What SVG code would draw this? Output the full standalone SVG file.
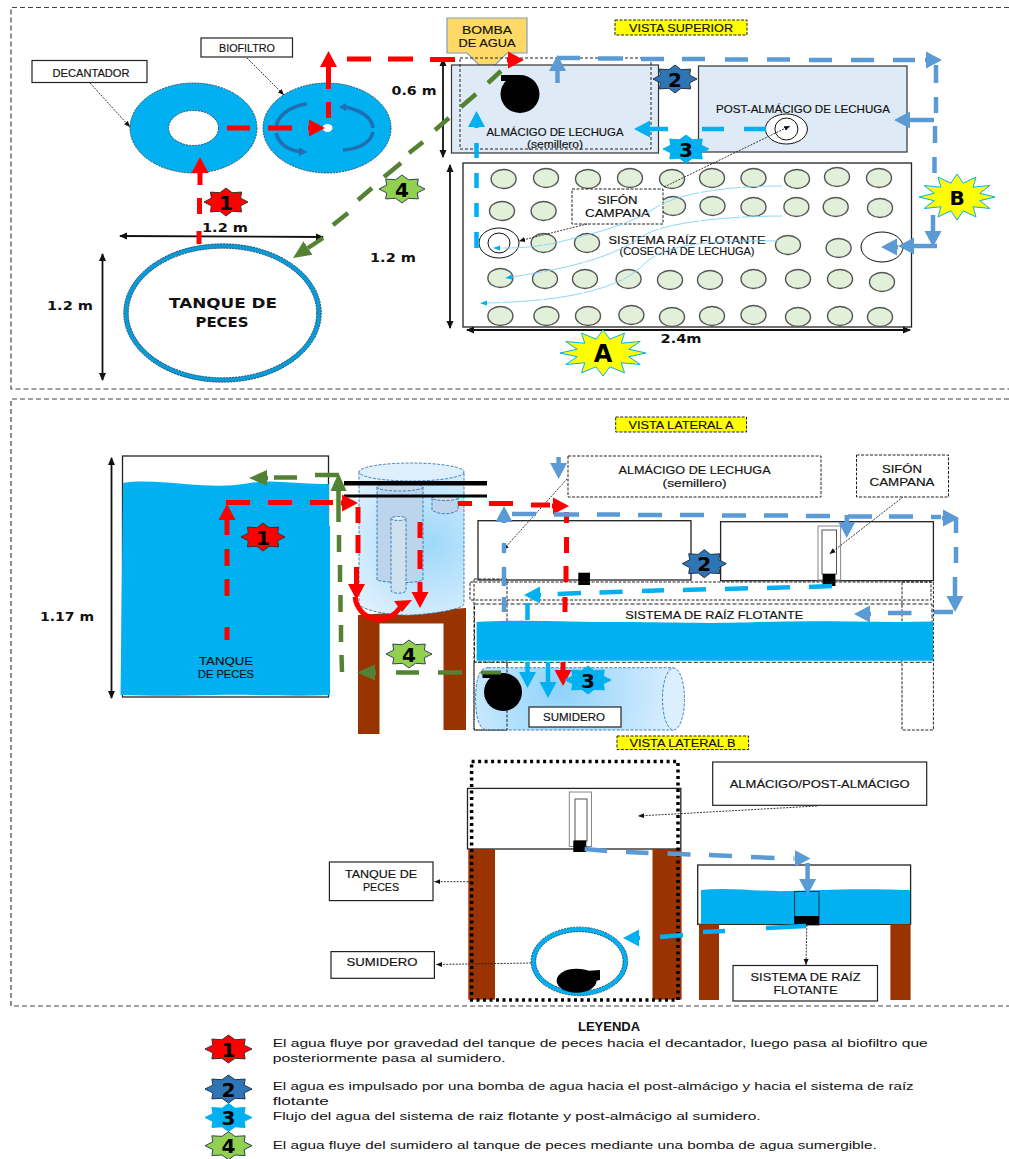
<svg xmlns="http://www.w3.org/2000/svg" width="1009" height="1159" viewBox="0 0 1009 1159">
<style>
text{font-family:"Liberation Sans",Arial,sans-serif;fill:#111;text-anchor:middle}
.l{font-size:10.5px;stroke:#111;stroke-width:.15}
.d{font-family:"DejaVu Sans",sans-serif;font-weight:bold;font-size:12px}
.n{font-family:"DejaVu Sans",sans-serif;font-weight:bold;font-size:20px;fill:#000}
.leg{font-size:11px;text-anchor:start}
.box{fill:#fff;stroke:#222;stroke-width:1.2}
.dbox{fill:#fff;stroke:#222;stroke-width:1;stroke-dasharray:3 1.5}
.tag{fill:#ff0;stroke:#222;stroke-width:1;stroke-dasharray:3 1.5}
.plain{fill:#fff;stroke:#222;stroke-width:1.3}
.panel{fill:none;stroke:#444;stroke-width:1.2;stroke-dasharray:5 3}
.water{fill:#00b0f0}
.disc{fill:#00b0f0;stroke:#234;stroke-width:.8;stroke-dasharray:2 1}
.seed{fill:#e2f0d9;stroke:#555;stroke-width:1.4}
.bed{fill:#deeaf6;stroke:#333;stroke-width:1.2}
.ring{fill:none;stroke:#111;stroke-width:1}
.edge{fill:none;stroke:#234;stroke-width:.8;stroke-dasharray:2 1}
.wood{fill:#993300}
.blk{fill:#000}
.pipe{stroke:#2e75b6;stroke-width:.9;stroke-dasharray:3 1.5}
.dim{fill:none;stroke:#111;stroke-width:1.8;marker-start:url(#dimS);marker-end:url(#dimE)}
.lead{fill:none;stroke:#222;stroke-width:.9;stroke-dasharray:2 1.2;marker-end:url(#lead)}
.fr{fill:none;stroke:#f00;stroke-width:5;marker-end:url(#mr)}
.fb{fill:none;stroke:#5b9bd5;stroke-width:4.5;marker-end:url(#mb)}
.fl{fill:none;stroke:#00b0f0;stroke-width:4.5;marker-end:url(#ml)}
.fg{fill:none;stroke:#548235;stroke-width:4.5;marker-end:url(#mg)}
.thin{fill:none;stroke:#7fd3f5;stroke-width:.9;stroke-dasharray:40 1.5;marker-end:url(#mt)}
.arc{fill:none;stroke:#1f6fb2;stroke-width:3.5}
.s1{fill:#f00;stroke:#333}.s2{fill:#2e75b6;stroke:#234}.s3{fill:#00b0f0;stroke:#00b0f0}.s4{fill:#92d050;stroke:#345}
.sy{fill:#ff0;stroke:#00b0f0}
</style>
<defs>
<polygon id="s8" vector-effect="non-scaling-stroke" points="1,0 .665,.276 .707,.707 .276,.665 0,1 -.276,.665 -.707,.707 -.665,.276 -1,0 -.665,-.276 -.707,-.707 -.276,-.665 0,-1 .276,-.665 .707,-.707 .665,-.276"/>
<polygon id="s12" vector-effect="non-scaling-stroke" points="1,0 .6,.161 .866,.5 .424,.424 .5,.866 .161,.6 0,1 -.161,.6 -.5,.866 -.424,.424 -.866,.5 -.6,.161 -1,0 -.6,-.161 -.866,-.5 -.424,-.424 -.5,-.866 -.161,-.6 0,-1 .161,-.6 .5,-.866 .424,-.424 .866,-.5 .6,-.161"/>
<marker id="mr" markerUnits="userSpaceOnUse" markerWidth="18" markerHeight="18" viewBox="0 -9 18 18" refX="0" refY="0" orient="auto"><path d="M0-8.5L16 0 0 8.5z" fill="#f00"/></marker>
<marker id="mb" markerUnits="userSpaceOnUse" markerWidth="18" markerHeight="18" viewBox="0 -9 18 18" refX="0" refY="0" orient="auto"><path d="M0-8.5L16 0 0 8.5z" fill="#5b9bd5"/></marker>
<marker id="ml" markerUnits="userSpaceOnUse" markerWidth="18" markerHeight="18" viewBox="0 -9 18 18" refX="0" refY="0" orient="auto"><path d="M0-8.5L16 0 0 8.5z" fill="#00b0f0"/></marker>
<marker id="mg" markerUnits="userSpaceOnUse" markerWidth="20" markerHeight="18" viewBox="0 -9 20 18" refX="0" refY="0" orient="auto"><path d="M0-8L18 0 0 8z" fill="#548235"/></marker>
<marker id="mt" markerUnits="userSpaceOnUse" markerWidth="8" markerHeight="6" viewBox="0 -3 8 6" refX="0" refY="0" orient="auto"><path d="M0-2.5L7 0 0 2.5z" fill="#00b0f0"/></marker>
<marker id="dimE" markerUnits="userSpaceOnUse" markerWidth="9" markerHeight="8" viewBox="0 -4 9 8" refX="7" refY="0" orient="auto"><path d="M0-3.5L8 0 0 3.500z" fill="#111"/></marker>
<marker id="dimS" markerUnits="userSpaceOnUse" markerWidth="9" markerHeight="8" viewBox="0 -4 9 8" refX="1" refY="0" orient="auto"><path d="M8-3.5L0 0 8 3.500z" fill="#111"/></marker>
<marker id="lead" markerUnits="userSpaceOnUse" markerWidth="7" markerHeight="6" viewBox="0 -3 7 6" refX="6" refY="0" orient="auto"><path d="M0-2.5L6 0 0 2.500z" fill="#111"/></marker>
<radialGradient id="glass" gradientUnits="userSpaceOnUse" cx="430" cy="543" r="90"><stop offset="0" stop-color="#9ed8fa"/><stop offset="1" stop-color="#def0fd"/></radialGradient>
<radialGradient id="sump" gradientUnits="userSpaceOnUse" cx="560" cy="690" r="120"><stop offset="0" stop-color="#8fd3fa"/><stop offset="1" stop-color="#dcefff"/></radialGradient>
</defs>

<g id="panels">
<path class="panel" d="M1009 7.500H11V389H1009"/>
<path class="panel" d="M1009 399H11V1006H1009"/>
</g>

<g id="decantador">
<ellipse class="disc" cx="193.500" cy="128" rx="63.500" ry="45"/>
<ellipse cx="193.500" cy="128" rx="25" ry="17.500" fill="#fff" stroke="#234" stroke-width=".8" stroke-dasharray="2 1"/>
<rect class="box" x="32" y="60.500" width="115" height="22"/>
<text class="l" x="91" y="76.500" textLength="77" lengthAdjust="spacingAndGlyphs">DECANTADOR</text>
</g>
<g id="biofiltro">
<ellipse class="disc" cx="327" cy="128" rx="64" ry="45"/>
<ellipse cx="327.500" cy="128" rx="5" ry="4" fill="#fff"/>
<path class="arc" d="M307 104C290 106 277 116 276 128M276 133C279 144 288 150 300 151.500M345 107C360 110 372 117 373 128M373 132C371 143 358 149 343 150"/>
<path d="M299 147L307 152 299 156ZM346 103L339 107 346 111Z" fill="#1f6fb2"/>
<rect class="box" x="201" y="38" width="91.500" height="19"/>
<text class="l" x="247" y="51.500" textLength="56" lengthAdjust="spacingAndGlyphs">BIOFILTRO</text>
</g>
<g id="tanque-superior">
<ellipse cx="222.500" cy="313" rx="96.500" ry="67" fill="#fff" stroke="#0a9ad8" stroke-width="4.500"/>
<ellipse class="edge" cx="222.500" cy="313" rx="98.800" ry="69.200"/>
<ellipse class="edge" cx="222.500" cy="313" rx="94.200" ry="64.800"/>
<text class="d" style="font-size:14px" x="223" y="308" textLength="108" lengthAdjust="spacingAndGlyphs">TANQUE DE</text>
<text class="d" style="font-size:14px" x="222" y="327" textLength="53" lengthAdjust="spacingAndGlyphs">PECES</text>
</g>
<g id="bomba-superior">
<polygon points="447,18 527,18 527,53 507,53 487,73 467,53 447,53" fill="#ffd966" stroke="#7f9fc0" stroke-width="1.200"/>
<text class="l" x="487" y="33.500" textLength="50" lengthAdjust="spacingAndGlyphs">BOMBA</text>
<text class="l" x="487" y="46.500" textLength="57" lengthAdjust="spacingAndGlyphs">DE AGUA</text>
</g>
<g id="almacigo-superior">
<rect class="bed" x="451.500" y="65" width="207" height="88"/>
<rect x="460" y="58" width="191" height="91" fill="none" stroke="#222" stroke-dasharray="3 2"/>
<text class="l" x="555" y="136" textLength="137" lengthAdjust="spacingAndGlyphs">ALMÁCIGO DE LECHUGA</text>
<text class="l" x="555" y="148" textLength="56" lengthAdjust="spacingAndGlyphs">(semillero)</text>
<ellipse class="blk" cx="520" cy="94" rx="19.500" ry="19"/>
<rect class="blk" x="501" y="75" width="19" height="6"/>
</g>
<g id="post-almacigo-superior">
<rect class="bed" x="698.500" y="66" width="208.500" height="86"/>
<text class="l" x="803" y="112.500" textLength="174" lengthAdjust="spacingAndGlyphs">POST-ALMÁCIGO  DE LECHUGA</text>
<ellipse cx="786.400" cy="129" rx="21" ry="15" fill="#fff" stroke="#111"/>
<ellipse class="ring" cx="786.400" cy="129" rx="11.500" ry="11"/>
</g>
<g id="sistema-superior">
<rect class="plain" x="463" y="163" width="448.500" height="164"/>
<g class="seed">
<ellipse cx="503.600" cy="179" rx="12.500" ry="9.500"/><ellipse cx="546" cy="178" rx="12.500" ry="9.500"/><ellipse cx="588" cy="179" rx="12.500" ry="9.500"/><ellipse cx="630" cy="178" rx="12.500" ry="9.500"/><ellipse cx="672" cy="179" rx="12.500" ry="9.500"/><ellipse cx="712" cy="178" rx="12.500" ry="9.500"/><ellipse cx="753.500" cy="178" rx="12.500" ry="9.500"/><ellipse cx="797" cy="179" rx="12.500" ry="9.500"/><ellipse cx="837" cy="177" rx="12.500" ry="9.500"/><ellipse cx="879" cy="178" rx="12.500" ry="9.500"/>
<ellipse cx="502" cy="211" rx="12.500" ry="9.500"/><ellipse cx="543.600" cy="211" rx="12.500" ry="9.500"/><ellipse cx="673" cy="206" rx="12.500" ry="9.500"/><ellipse cx="712.500" cy="206" rx="12.500" ry="9.500"/><ellipse cx="753.500" cy="207" rx="12.500" ry="9.500"/><ellipse cx="796.400" cy="207" rx="12.500" ry="9.500"/><ellipse cx="835.700" cy="207" rx="12.500" ry="9.500"/><ellipse cx="880" cy="208" rx="12.500" ry="9.500"/>
<ellipse cx="543.600" cy="243" rx="12.500" ry="9.500"/><ellipse cx="587" cy="243" rx="12.500" ry="9.500"/><ellipse cx="788" cy="245" rx="12.500" ry="9.500"/><ellipse cx="838.600" cy="248" rx="12.500" ry="9.500"/>
<ellipse cx="500.400" cy="278" rx="12.500" ry="9.500"/><ellipse cx="545" cy="279" rx="12.500" ry="9.500"/><ellipse cx="585" cy="279" rx="12.500" ry="9.500"/><ellipse cx="628.600" cy="279" rx="12.500" ry="9.500"/><ellipse cx="670" cy="280" rx="12.500" ry="9.500"/><ellipse cx="710" cy="280" rx="12.500" ry="9.500"/><ellipse cx="753.500" cy="279" rx="12.500" ry="9.500"/><ellipse cx="798" cy="279" rx="12.500" ry="9.500"/><ellipse cx="840" cy="279" rx="12.500" ry="9.500"/><ellipse cx="882" cy="282" rx="12.500" ry="9.500"/>
<ellipse cx="500.400" cy="316" rx="12.500" ry="9.500"/><ellipse cx="546.400" cy="316" rx="12.500" ry="9.500"/><ellipse cx="588" cy="316" rx="12.500" ry="9.500"/><ellipse cx="631.400" cy="315" rx="12.500" ry="9.500"/><ellipse cx="672" cy="317" rx="12.500" ry="9.500"/><ellipse cx="712" cy="316" rx="12.500" ry="9.500"/><ellipse cx="753.500" cy="315" rx="12.500" ry="9.500"/><ellipse cx="798" cy="317" rx="12.500" ry="9.500"/><ellipse cx="840" cy="316" rx="12.500" ry="9.500"/><ellipse cx="880" cy="317" rx="12.500" ry="9.500"/>
</g>
<ellipse cx="499" cy="243" rx="20" ry="15" fill="#fff" stroke="#111"/>
<ellipse class="ring" cx="499" cy="243" rx="11" ry="10"/>
<ellipse cx="882" cy="247" rx="21" ry="15" fill="#fff" stroke="#111"/>
<text class="l" x="687" y="243.500" textLength="157" lengthAdjust="spacingAndGlyphs">SISTEMA RAÍZ FLOTANTE</text>
<text class="l" x="687" y="255" textLength="135" lengthAdjust="spacingAndGlyphs">(COSECHA DE LECHUGA)</text>
</g>
<g id="sifon-superior">
<rect class="dbox" x="572" y="189" width="91" height="35"/>
<text class="l" x="617.500" y="203.500" textLength="40" lengthAdjust="spacingAndGlyphs">SIFÓN</text>
<text class="l" x="617.500" y="216.500" textLength="65" lengthAdjust="spacingAndGlyphs">CAMPANA</text>
</g>

<g id="tanque-lateral">
<rect class="plain" x="122.500" y="456" width="206" height="241"/>
<path class="water" d="M123 483C140 480 160 482 185 484S225 487 250 483 300 485 329 484V526H330V695C290 697 250 694 215 695S150 696 120.500 695Z"/>
<text class="l" x="226" y="664.500" textLength="54" lengthAdjust="spacingAndGlyphs">TANQUE</text>
<text class="l" x="226" y="677.500" textLength="56" lengthAdjust="spacingAndGlyphs">DE PECES</text>
</g>
<g id="biofiltro-lateral">
<path class="wood" d="M358 734V615L466 608V730H443.500V623.500H379.500V734Z"/>
<path d="M359 472V604C362 611 395 616 412 615S462 610 464 604V472Z" fill="url(#glass)" class="pipe"/>
<ellipse cx="411.500" cy="472" rx="52.500" ry="9" fill="#dfeffc" class="pipe"/>
<path d="M377 487V580C385 583 415 584 423 580V487Z" fill="#bcd4ec" class="pipe"/>
<ellipse cx="400" cy="487" rx="23" ry="4" fill="#c5d9ec" class="pipe"/>
<path d="M391 518V591C394 594 403 594 406 591V518Z" fill="#cfe0ee" class="pipe"/>
<ellipse cx="398.500" cy="518.500" rx="7.500" ry="2" fill="#dcebf5" class="pipe"/>
<path d="M432 498V510C438 515 452 515 458 510V498Z" fill="#bcd4ec" class="pipe"/>
<ellipse cx="445" cy="498" rx="13" ry="2.500" fill="#cfe0ee" class="pipe"/>
<rect class="blk" x="344" y="481" width="143" height="4.500"/>
<rect class="blk" x="344" y="494.500" width="143" height="3"/>
</g>
<g id="almacigo-lateral">
<rect class="plain" x="478" y="520.700" width="213" height="59.300"/>
<rect class="blk" x="578.300" y="572.700" width="11.700" height="12.300"/>
</g>
<g id="post-almacigo-lateral">
<rect class="plain" x="720.600" y="521.700" width="212.800" height="59"/>
<rect x="818" y="526" width="22.600" height="54" fill="#fff" stroke="#888"/>
<rect x="822" y="530" width="14.500" height="44" fill="#fff" stroke="#555"/>
<rect class="blk" x="822.600" y="574" width="12.800" height="12"/>
</g>
<g id="sistema-lateral">
<rect x="470" y="582" width="461" height="18" fill="none" stroke="#222" stroke-dasharray="3 1.500"/>
<rect x="474" y="579" width="33" height="151" fill="none" stroke="#222" stroke-dasharray="3 1.500"/>
<rect x="902" y="582" width="31.400" height="148" fill="none" stroke="#222" stroke-dasharray="3 1.500"/>
<rect x="474.500" y="604" width="457.500" height="58.300" fill="none" stroke="#222" stroke-dasharray="4 2"/>
<path class="water" d="M476.600 622C520 619 570 622 620 622S700 624 760 622 880 623 933 621.500V660.700H476.600Z"/>
<text class="l" x="714.300" y="618.500" textLength="178" lengthAdjust="spacingAndGlyphs">SISTEMA DE RAÍZ FLOTANTE</text>
</g>
<g id="sumidero-lateral">
<path d="M488 667.700H673.500V730H488C478 730 475.600 715 475.600 699S478 667.700 488 667.700Z" fill="url(#sump)" class="pipe"/>
<ellipse cx="673.500" cy="699" rx="11" ry="31" fill="#dcefff" class="pipe"/>
<rect x="474" y="662" width="33" height="68" fill="none" stroke="#222" stroke-dasharray="3 1.500"/>
<circle class="blk" cx="503" cy="692" r="19"/>
<rect class="blk" x="482.500" y="673" width="19.500" height="5"/>
<rect class="box" x="529" y="707" width="92" height="20"/>
<text class="l" x="574" y="721" textLength="62" lengthAdjust="spacingAndGlyphs">SUMIDERO</text>
</g>
<g id="etiquetas-lateral">
<rect class="dbox" x="568" y="456" width="253" height="41"/>
<text class="l" x="694.600" y="474" textLength="152" lengthAdjust="spacingAndGlyphs">ALMÁCIGO  DE LECHUGA</text>
<text class="l" x="694.600" y="487" textLength="64" lengthAdjust="spacingAndGlyphs">(semillero)</text>
<rect class="dbox" x="856.500" y="455" width="92" height="42"/>
<text class="l" x="902" y="473" textLength="40" lengthAdjust="spacingAndGlyphs">SIFÓN</text>
<text class="l" x="902" y="486" textLength="65" lengthAdjust="spacingAndGlyphs">CAMPANA</text>
</g>

<g id="vista-b">
<rect class="plain" x="467.500" y="788.400" width="213.300" height="60.600"/>
<rect x="569.300" y="792" width="22.200" height="54.500" fill="#fff" stroke="#888"/>
<rect x="575" y="799" width="12" height="42" fill="#fff" stroke="#555"/>
<rect class="wood" x="468.300" y="849" width="26.700" height="150.600"/>
<rect class="wood" x="652.500" y="849" width="29.100" height="150.600"/>
<rect class="blk" x="573.300" y="840.500" width="13" height="11.500"/>
<rect x="471.600" y="761.400" width="206.400" height="238.600" fill="none" stroke="#000" stroke-width="3.500" stroke-dasharray="3 3.500"/>
<ellipse cx="579.400" cy="961.400" rx="46" ry="32" fill="#fff" stroke="#00b0f0" stroke-width="4.500"/>
<ellipse class="edge" cx="579.400" cy="961.400" rx="48.300" ry="34.300"/>
<ellipse class="edge" cx="579.400" cy="961.400" rx="43.700" ry="29.700"/>
<ellipse class="blk" cx="576.600" cy="980.700" rx="20" ry="12"/>
<path class="blk" d="M586 971L600 970V980L590 982Z"/>
<rect class="plain" x="697.700" y="865" width="212.900" height="59.300"/>
<path class="water" d="M701 890C730 887 760 892 790 891S850 888 910 890V924H701Z"/>
<rect class="wood" x="699" y="924.300" width="20" height="75.700"/>
<rect class="wood" x="890.400" y="924.300" width="20.200" height="75.700"/>
<rect x="794.600" y="891.500" width="24.400" height="33.500" fill="none" stroke="#234"/>
<rect class="blk" x="794.600" y="916" width="24.400" height="9"/>
<rect class="box" x="712.700" y="762" width="214" height="43.300"/>
<text class="l" x="819.700" y="788" textLength="180" lengthAdjust="spacingAndGlyphs">ALMÁCIGO/POST-ALMÁCIGO</text>
<rect class="box" x="329.400" y="862" width="103.600" height="38.600"/>
<text class="l" x="381" y="878" textLength="72" lengthAdjust="spacingAndGlyphs">TANQUE DE</text>
<text class="l" x="381" y="891" textLength="36" lengthAdjust="spacingAndGlyphs">PECES</text>
<rect class="box" x="331" y="951.600" width="103.400" height="26.700"/>
<text class="l" x="382" y="966" textLength="71" lengthAdjust="spacingAndGlyphs">SUMIDERO</text>
<rect class="box" x="733" y="965.500" width="144.500" height="35.500"/>
<text class="l" x="805.500" y="981" textLength="110" lengthAdjust="spacingAndGlyphs">SISTEMA DE RAÍZ</text>
<text class="l" x="805.500" y="994" textLength="64" lengthAdjust="spacingAndGlyphs">FLOTANTE</text>
</g>

<g id="connectors">
<path class="lead" d="M90 83L130 127"/>
<path class="lead" d="M247 58L284 95"/>
<path class="lead" d="M664 187L790 126"/>
<path class="lead" d="M587 224L519 241"/>
<path class="lead" d="M567 479L503 550"/>
<path class="lead" d="M903 497L829.500 554"/>
<path class="lead" d="M817 806L638 816"/>
<path class="lead" d="M471.500 881.700H434.400"/>
<path class="lead" d="M531.300 963L436 964.500"/>
<path class="lead" d="M806.800 925L806 965"/>
<path class="dim" d="M120 236L323 237"/>
<path class="dim" d="M102.500 254V380"/>
<path class="dim" d="M443 59V157"/>
<path class="dim" d="M450 165V328"/>
<path class="dim" d="M467 330H910"/>
<path class="dim" d="M111.500 458V698"/>

<path class="thin" d="M782 186C740 186 690 190 660 205 630 225 600 232 555 243 530 248 515 248 500 248"/>
<path class="thin" d="M782 216C730 216 660 222 640 238 610 258 570 268 512 277"/>
<path class="thin" d="M778 241C700 240 660 245 640 268 610 295 540 302 487 303"/>

<path class="fr" d="M199 244V231M199.500 214V198M200 185V173"/>
<path class="fr" d="M227 128H250M268 128H292M308 128H309"/>
<path class="fr" d="M328.500 118V102M328.500 89V67"/>
<path class="fr" d="M347 59H371M388 59H413M430 59.500H455M507 60H508"/>
<path class="fr" d="M227 640V627M227 596V579M227 566V549M227 535V520"/>
<path class="fr" d="M226 502.500H250M268 502.500H292M310 502.500H333M341 503H342"/>
<path class="fr" d="M358 507V523M358 535V553M356.500 567V584"/>
<path class="fr" d="M420 522V538M420 550V569M420 582V592"/>
<path class="fr" d="M458 503.500H472M489 503.500H513M531 505H550M552 506H553"/>
<path class="fr" d="M566.500 512V523M566.500 537V553M566 566V582M565 597V612M563 662V670"/>
<path d="M355 597C358 622 390 628 402 604" fill="none" stroke="#f00" stroke-width="5"/>
<path d="M394 601L412 600 402 612Z" fill="#f00"/>

<path class="fb" d="M557.500 83V71"/>
<path class="fb" d="M558 58H580M598 58.500H623M641 59H664M682 59H705M725 59.500H748M767 59.500H790M809 60H832M851 60H874M893 60H915M925 60H926"/>
<path class="fb" d="M936 65V83M936 97V113M935 126V143M934.500 157V173M933 215V231"/>
<path class="fb" d="M934 120H910"/>
<path class="fb" d="M937 246H914"/>
<path class="fb" d="M898 247H897"/>
<path class="fb" d="M504 612V597M504 586V567M504 553V543M504 523V522"/>
<path class="fb" d="M512 514H536M554 514.500H579M597 514.500H620M638 515H662M680 515H704M722 515.500H746M764 515.500H788M806 516H830M848 516.500H872M889 516.500H913M931 517H941M942 518H943"/>
<path class="fb" d="M956 518V533M956 547V563M955 577V596"/>
<path class="fb" d="M953 612H934M911.500 613H888M871 614H870"/>
<path class="fb" d="M846.800 515V522"/>
<path class="fb" d="M558.600 457V463"/>
<path class="fb" d="M584.600 849L607 851M626 852L648.500 853M667.500 853.500L690.500 854.500M709 855L732 856M751 857L774.500 858M793.500 858.400H794.500"/>
<path class="fb" d="M807.600 863V879"/>

<path class="fl" d="M766 129H744M724 129H702M668 129H650"/>
<path class="fl" d="M476.500 248V232M476.500 217V203M476.500 188V173M476.500 158V143M476.500 128V127"/>
<path class="fl" d="M832 586L809 587M790 587.300L767 588M748 588.300L725 589M706 589.300L683 590M664 590.300L642 591M622.600 591.700L599.500 592.500M581 593L557.600 594M541 595H540"/>
<path class="fl" d="M527.500 620V603M527.500 662V672"/>
<path class="fl" d="M548 662V682"/>
<path class="fl" d="M806 926L766 928M725 931L703 932M683 935L660 937M640 938H639"/>

<path class="fg" d="M501 71L488 83M476 94L461 107M449 118L435 130M423 142L409 153M401 163L384 177M372 188L358 200M348 213L333 225M323 238L308 248"/>
<path class="fg" d="M339 475H315M297 477.500H274M268 478H267"/>
<path class="fg" d="M342 672L341.500 655M341 642V625M340.500 612V595M340 582V565M339 552V535M338.500 522V491"/>
<path class="fg" d="M462 672.500H438M419 672.500H396M376 672.500H375"/>
<path d="M481 672.500H501" stroke="#548235" stroke-width="4" fill="none"/>
</g>

<g id="paso-1-superior"><use href="#s8" class="s1" transform="translate(226 202) scale(22 14)"/><text class="n" x="226" y="210">1</text></g>
<g id="paso-2-superior"><use href="#s8" class="s2" transform="translate(675 79) scale(22 14)"/><text class="n" x="675" y="87">2</text></g>
<g id="paso-3-superior"><use href="#s8" class="s3" transform="translate(686 149) scale(23 14)"/><text class="n" x="686" y="157">3</text></g>
<g id="paso-4-superior"><use href="#s8" class="s4" transform="translate(402 189) scale(23 14)"/><text class="n" x="402" y="197">4</text></g>
<g id="paso-1-lateral"><use href="#s8" class="s1" transform="translate(263 537) scale(22 14)"/><text class="n" x="263" y="545">1</text></g>
<g id="paso-2-lateral"><use href="#s8" class="s2" transform="translate(704.300 563.700) scale(22 14)"/><text class="n" x="704.300" y="571">2</text></g>
<g id="paso-3-lateral"><use href="#s8" class="s3" transform="translate(588 680) scale(23 14)"/><text class="n" x="588" y="688">3</text></g>
<g id="paso-4-lateral"><use href="#s8" class="s4" transform="translate(409 654) scale(23 14)"/><text class="n" x="409" y="662">4</text></g>
<g id="punto-a"><use href="#s12" class="sy" transform="translate(603 353) scale(43 23)"/><text class="n" style="font-size:24px" x="603" y="362">A</text></g>
<g id="punto-b"><use href="#s12" class="sy" transform="translate(957 197) scale(38 23)"/><text class="n" style="font-size:20px" x="957" y="205">B</text></g>

<g id="medidas">
<text class="d" x="225" y="232" textLength="46" lengthAdjust="spacingAndGlyphs">1.2 m</text>
<text class="d" x="70" y="310" textLength="46" lengthAdjust="spacingAndGlyphs">1.2 m</text>
<text class="d" x="414" y="95" textLength="45" lengthAdjust="spacingAndGlyphs">0.6 m</text>
<text class="d" x="393" y="262" textLength="46" lengthAdjust="spacingAndGlyphs">1.2 m</text>
<text class="d" x="681" y="343" textLength="41" lengthAdjust="spacingAndGlyphs">2.4m</text>
<text class="d" x="67" y="621" textLength="54" lengthAdjust="spacingAndGlyphs">1.17 m</text>
</g>
<g id="vista-superior"><rect class="tag" x="615" y="20" width="132" height="15"/><text class="l" x="681" y="31.500" textLength="104" lengthAdjust="spacingAndGlyphs">VISTA SUPERIOR</text></g>
<g id="vista-lateral-a"><rect class="tag" x="615.700" y="417" width="130.800" height="15"/><text class="l" x="681" y="428.500" textLength="105" lengthAdjust="spacingAndGlyphs">VISTA LATERAL A</text></g>
<g id="vista-lateral-b"><rect class="tag" x="617" y="736" width="131.600" height="13.600"/><text class="l" x="682.500" y="746.800" textLength="106" lengthAdjust="spacingAndGlyphs">VISTA LATERAL B</text></g>

<g id="leyenda">
<text style="font-size:13px;font-weight:bold" x="609" y="1031">LEYENDA</text>
<use href="#s8" class="s1" transform="translate(228.500 1049) scale(23.500 14)"/><text class="n" x="228.500" y="1057">1</text>
<use href="#s8" class="s2" transform="translate(228.500 1089) scale(23.500 14)"/><text class="n" x="228.500" y="1097">2</text>
<use href="#s8" class="s3" transform="translate(228.500 1117.500) scale(23.500 14)"/><text class="n" x="228.500" y="1125">3</text>
<use href="#s8" class="s4" transform="translate(228.500 1145.700) scale(23.500 14)"/><text class="n" x="228.500" y="1153">4</text>
<text class="leg" x="272.700" y="1047" textLength="655" lengthAdjust="spacingAndGlyphs">El agua fluye por gravedad  del tanque de peces  hacia el decantador, luego pasa al  biofiltro  que</text>
<text class="leg" x="272.700" y="1062" textLength="233" lengthAdjust="spacingAndGlyphs">posteriormente pasa al sumidero.</text>
<text class="leg" x="272.700" y="1090" textLength="641" lengthAdjust="spacingAndGlyphs">El agua es impulsado por una bomba de agua hacia  el post-almácigo y hacia el sistema de raíz</text>
<text class="leg" x="272.700" y="1105" textLength="56" lengthAdjust="spacingAndGlyphs">flotante</text>
<text class="leg" x="272.700" y="1120" textLength="488" lengthAdjust="spacingAndGlyphs">Flujo del agua  del sistema de raiz flotante y post-almácigo al sumidero.</text>
<text class="leg" x="272.700" y="1149" textLength="604" lengthAdjust="spacingAndGlyphs">El agua fluye del sumidero al tanque de peces mediante una bomba de agua sumergible.</text>
</g>
</svg>
